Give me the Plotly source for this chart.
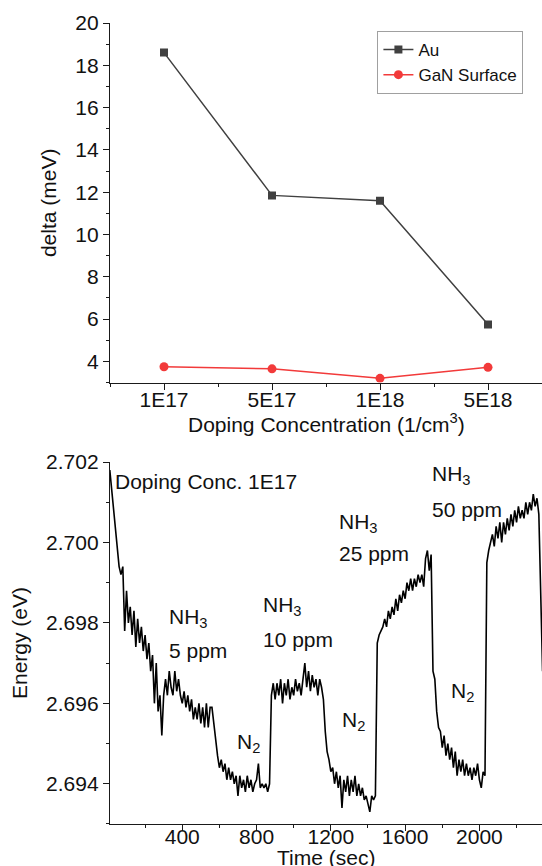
import plotly.graph_objects as go

# ---------- top chart data ----------
doping_labels = ["1E17", "5E17", "1E18", "5E18"]
doping_pos = [0, 1, 2, 3]
au_delta = [18.6, 11.85, 11.6, 5.75]
gan_delta = [3.75, 3.65, 3.2, 3.72]

# ---------- bottom chart data ----------
time_start, time_step = 10, 10
energy = [
    2.7018, 2.7013, 2.7009, 2.7003, 2.7000, 2.6994, 2.6992, 2.6994, 2.6978, 2.6988,
    2.6980, 2.6984, 2.6977, 2.6983, 2.6974, 2.6981, 2.6975, 2.6979, 2.6973, 2.6977,
    2.6971, 2.6975, 2.6968, 2.6972, 2.6960, 2.6970, 2.6958, 2.6962, 2.6952, 2.6962,
    2.6966, 2.6962, 2.6968, 2.6964, 2.6962, 2.6968, 2.6963, 2.6966, 2.6962, 2.6960,
    2.6963, 2.6959, 2.6962, 2.6958, 2.6961, 2.6956, 2.6959, 2.6956, 2.6960, 2.6955,
    2.6959, 2.6954, 2.6960, 2.6954, 2.6959, 2.6959, 2.6955, 2.6950, 2.6947, 2.6944,
    2.6946, 2.6943, 2.6945, 2.6941, 2.6944, 2.6941, 2.6943, 2.6940, 2.6942, 2.6937,
    2.6942, 2.6939, 2.6941, 2.6938, 2.6942, 2.6939, 2.6941, 2.6938, 2.6940, 2.6941,
    2.6945, 2.6939, 2.6940, 2.6939, 2.6940, 2.6938, 2.6940, 2.6962, 2.6965, 2.6961,
    2.6965, 2.6962, 2.6966, 2.6960, 2.6965, 2.6962, 2.6966, 2.6961, 2.6964, 2.6962,
    2.6966, 2.6963, 2.6965, 2.6962, 2.6967, 2.6970, 2.6964, 2.6968, 2.6963, 2.6967,
    2.6964, 2.6966, 2.6962, 2.6966, 2.6964, 2.6961, 2.6953, 2.6948, 2.6946, 2.6943,
    2.6944, 2.6940, 2.6943, 2.6939, 2.6942, 2.6934, 2.6941, 2.6938, 2.6942, 2.6937,
    2.6941, 2.6938, 2.6942, 2.6937, 2.6940, 2.6937, 2.6939, 2.6936, 2.6937, 2.6935,
    2.6933, 2.6937, 2.6936, 2.6937, 2.6975, 2.6977, 2.6978, 2.6979, 2.6981, 2.6979,
    2.6983, 2.6981, 2.6984, 2.6982, 2.6986, 2.6983, 2.6987, 2.6985, 2.6988, 2.6986,
    2.6990, 2.6988, 2.6991, 2.6988, 2.6991, 2.6989, 2.6992, 2.6990, 2.6992, 2.6989,
    2.6996, 2.6998, 2.6993, 2.6997, 2.6968, 2.6966, 2.6958, 2.6954, 2.6953, 2.6949,
    2.6952, 2.6947, 2.6950, 2.6946, 2.6949, 2.6944, 2.6948, 2.6942, 2.6946, 2.6943,
    2.6946, 2.6942, 2.6945, 2.6942, 2.6944, 2.6941, 2.6944, 2.6942, 2.6945, 2.6941,
    2.6939, 2.6943, 2.6942, 2.6995, 2.6998, 2.7000, 2.7002, 2.6999, 2.7004, 2.7001,
    2.7005, 2.7000, 2.7005, 2.7002, 2.7006, 2.7003, 2.7007, 2.7004, 2.7008, 2.7005,
    2.7009, 2.7006, 2.7008, 2.7006, 2.7010, 2.7007, 2.7010, 2.7008, 2.7012, 2.7009,
    2.7011, 2.7007, 2.6985, 2.6968,
]
time_sec = [time_start + i * time_step for i in range(len(energy))]

FONT = "Arial, Liberation Sans, sans-serif"
AX = "#1a1a1a"
FS = 21

fig = go.Figure()
fig.add_trace(go.Scatter(x=doping_pos, y=au_delta, name="Au", mode="lines+markers",
                         line=dict(color="#404040", width=1.5),
                         marker=dict(symbol="square", size=8, color="#404040"),
                         xaxis="x", yaxis="y"))
fig.add_trace(go.Scatter(x=doping_pos, y=gan_delta, name="GaN Surface", mode="lines+markers",
                         line=dict(color="#f23a3a", width=1.5),
                         marker=dict(symbol="circle", size=9, color="#f23a3a"),
                         xaxis="x", yaxis="y"))
fig.add_trace(go.Scatter(x=time_sec, y=energy, mode="lines", showlegend=False,
                         line=dict(color="black", width=1.6),
                         xaxis="x2", yaxis="y2"))

common = dict(showgrid=False, zeroline=False, showline=True, linecolor=AX, linewidth=1.3,
              tickcolor=AX, automargin=False,
              tickfont=dict(family=FONT, size=FS, color="#111"))
mirror = dict(showgrid=False, zeroline=False, showline=True, linecolor=AX, linewidth=1.3,
              tickcolor=AX, automargin=False, showticklabels=False)
tfont = dict(family=FONT, size=FS, color="#111")

top_dom = [0.5511, 1.0]
bot_dom = [0.0, 0.4519]
xr_top = [-0.5, 3.5]
yr_top = [3.0, 20.0]
xr_bot = [11, 2337]
yr_bot = [2.693, 2.702]
minor_cat = [-0.5, 0.5, 1.5, 2.5, 3.5]

fig.update_layout(
    xaxis=dict(**common, domain=[0, 1], anchor="y", range=xr_top, tickmode="array",
               tickvals=doping_pos, ticktext=doping_labels, ticks="outside", ticklen=6,
               ticklabelstandoff=-8,
               minor=dict(tickvals=minor_cat, ticks="outside", ticklen=3, tickcolor=AX)),
    yaxis=dict(**common, domain=top_dom, anchor="x", range=yr_top, tickmode="linear",
               tick0=0, dtick=2, ticks="outside", ticklen=6,
               minor=dict(dtick=1, ticks="outside", ticklen=3, tickcolor=AX),
               title=dict(text="delta (meV)", font=tfont, standoff=12)),
    xaxis3=dict(**mirror, overlaying="x", anchor="y", side="top", range=xr_top, tickmode="array",
                tickvals=doping_pos, ticks="inside", ticklen=6,
                minor=dict(tickvals=minor_cat, ticks="inside", ticklen=3, tickcolor=AX)),
    yaxis3=dict(**mirror, overlaying="y", anchor="x", side="right", range=yr_top, tickmode="linear",
                tick0=0, dtick=2, ticks="inside", ticklen=6,
                minor=dict(dtick=1, ticks="inside", ticklen=3, tickcolor=AX)),
    xaxis2=dict(**common, domain=[0, 1], anchor="y2", range=xr_bot, tickmode="linear",
                tick0=0, dtick=400, ticks="outside", ticklen=6, ticklabelstandoff=-12,
                minor=dict(dtick=200, ticks="outside", ticklen=3, tickcolor=AX)),
    yaxis2=dict(**common, domain=bot_dom, anchor="x2", range=yr_bot, tickmode="linear",
                tick0=2.694, dtick=0.002, tickformat=".3f", ticks="outside", ticklen=6,
                minor=dict(dtick=0.001, ticks="outside", ticklen=3, tickcolor=AX),
                title=dict(text="Energy (eV)", font=tfont, standoff=12)),
    xaxis4=dict(**mirror, overlaying="x2", anchor="y2", side="top", range=xr_bot, tickmode="linear",
                tick0=0, dtick=400, ticks="inside", ticklen=6,
                minor=dict(dtick=200, ticks="inside", ticklen=3, tickcolor=AX)),
    yaxis4=dict(**mirror, overlaying="y2", anchor="x2", side="right", range=yr_bot, tickmode="linear",
                tick0=2.694, dtick=0.002, ticks="inside", ticklen=6,
                minor=dict(dtick=0.001, ticks="inside", ticklen=3, tickcolor=AX)),
    legend=dict(x=0.619, y=0.990, xanchor="left", yanchor="top", bgcolor="white",
                bordercolor="#a0a0a0", borderwidth=1,
                font=dict(family=FONT, size=17, color="#111"), tracegroupgap=0),
    width=542, height=866,
    margin=dict(l=110, r=0, t=23, b=42, autoexpand=False),
    plot_bgcolor="white", paper_bgcolor="white",
    font=dict(family=FONT, color="#111"),
)

# x-axis titles placed as paper annotations (centered under each plot)
fig.add_annotation(text="Doping Concentration (1/cm<sup>3</sup>)", x=0.5, y=0.5006,
                   xref="paper", yref="paper", xanchor="center", yanchor="middle",
                   showarrow=False, font=tfont)
fig.add_annotation(text="Time (sec)", x=0.5, y=-0.0424, xref="paper", yref="paper",
                   xanchor="center", yanchor="middle", showarrow=False, font=tfont)

labels = [
    ("Doping Conc. 1E17", 30, 2.70151),
    ("NH<sub>3</sub>", 325, 2.69813),
    ("5 ppm", 325, 2.69731),
    ("NH<sub>3</sub>", 827, 2.69843),
    ("10 ppm", 827, 2.69759),
    ("N<sub>2</sub>", 690, 2.69501),
    ("N<sub>2</sub>", 1255, 2.69557),
    ("NH<sub>3</sub>", 1237, 2.70048),
    ("25 ppm", 1237, 2.69972),
    ("N<sub>2</sub>", 1841, 2.69628),
    ("NH<sub>3</sub>", 1739, 2.70168),
    ("50 ppm", 1739, 2.70082),
]
for txt, tx, ty in labels:
    fig.add_annotation(text=txt, x=tx, y=ty, xref="x2", yref="y2", showarrow=False,
                       xanchor="left", yanchor="middle", font=tfont, borderpad=0)

fig.write_html("out.html", config={"displayModeBar": False},
               post_script="document.body.style.margin='0';document.body.style.padding='0';"
                           "document.body.style.overflow='hidden';")
